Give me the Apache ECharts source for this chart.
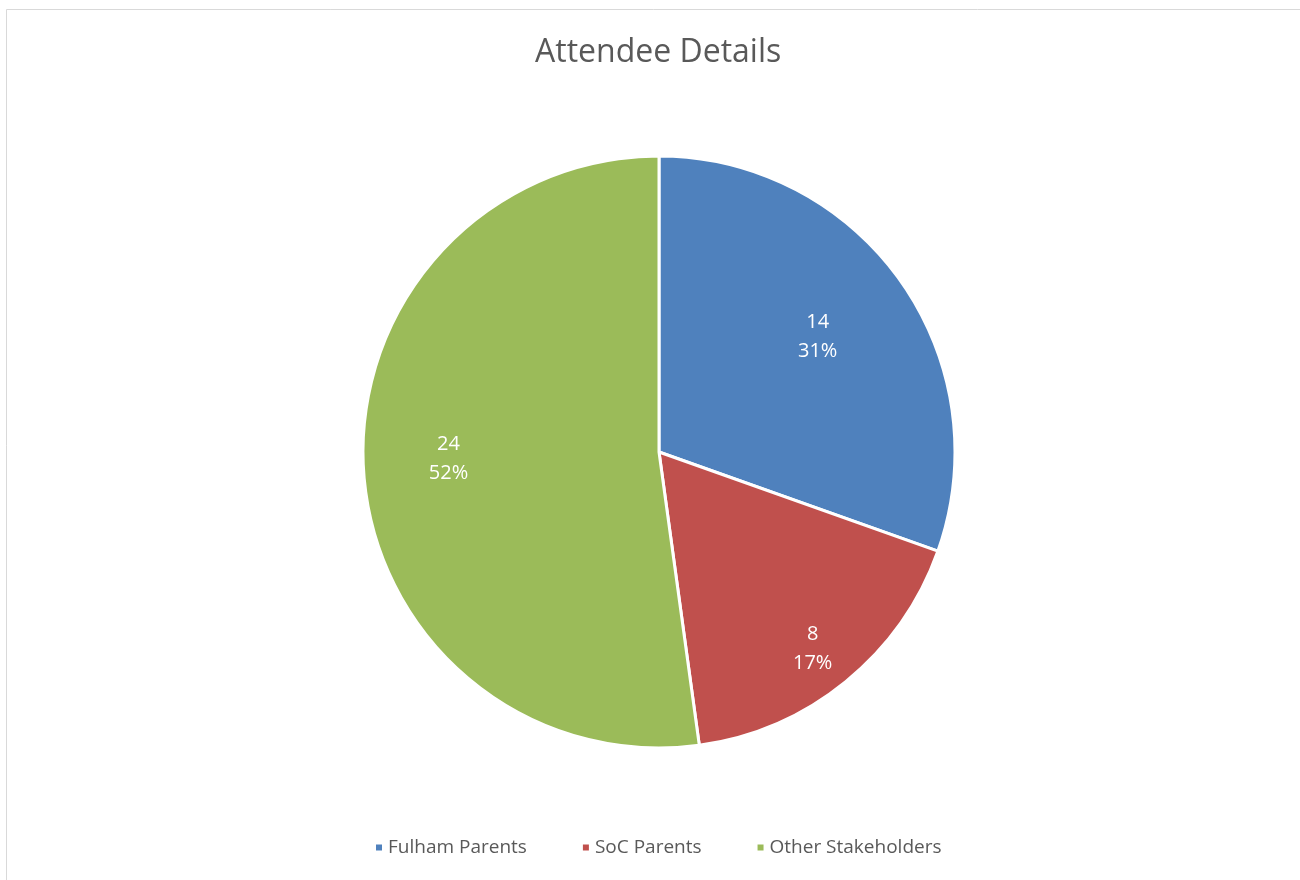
<!DOCTYPE html>
<html>
<head>
<meta charset="utf-8">
<script src="https://cdn.jsdelivr.net/npm/echarts@6/dist/echarts.min.js"></script>
<style>
html,body{margin:0;padding:0;background:#fff;}
#chart{width:1300px;height:880px;}
</style>
</head>
<body>
<div id="chart"></div>
<script>
var chartTitle = 'Attendee Details';
var categories = ['Fulham Parents', 'SoC Parents', 'Other Stakeholders'];
var values = [14, 8, 24];
var colors = ['#4f81bd', '#c0504d', '#9bbb59'];

var FONT = '"Open Sans", "Noto Sans", sans-serif';
// label nudges (style only) to mimic Excel's best-fit placement
var labelNudge = [[-17, 9], [18, 30], [4, -8]];

var pieData = categories.map(function (c, i) {
  return { name: c, value: values[i], itemStyle: { color: colors[i] } };
});

var chart = echarts.init(document.getElementById('chart'), null, { renderer: 'canvas' });
chart.setOption({
  backgroundColor: '#ffffff',
  animation: false,
  title: {
    text: chartTitle,
    left: 530,
    top: 32,
    textStyle: { fontFamily: FONT, fontSize: 32, fontWeight: 'normal', color: '#595959' }
  },
  graphic: [{
    type: 'rect',
    shape: { x: 6.5, y: 9.5, width: 1400, height: 1000 },
    style: { fill: 'none', stroke: '#d9d9d9', lineWidth: 1 },
    silent: true
  }],
  legend: {
    data: categories,
    bottom: 18,
    left: 369,
    icon: 'rect',
    itemWidth: 8,
    itemHeight: 8,
    itemGap: 54,
    textStyle: { fontFamily: FONT, fontSize: 19, color: '#595959' }
  },
  series: [{
    type: 'pie',
    center: [659, 452],
    radius: [0, 296],
    startAngle: 90,
    clockwise: true,
    data: pieData,
    itemStyle: { borderColor: '#ffffff', borderWidth: 3 },
    label: { show: false },
    labelLine: { show: false },
    emphasis: { disabled: true }
  }, {
    type: 'pie',
    center: [659, 452],
    radius: [0, 424],
    startAngle: 90,
    clockwise: true,
    silent: true,
    percentPrecision: 0,
    data: pieData.map(function (d, i) {
      return { name: d.name, value: d.value, label: { offset: labelNudge[i] } };
    }),
    itemStyle: { color: 'rgba(0,0,0,0)', borderWidth: 0 },
    label: {
      show: true,
      position: 'inside',
      formatter: '{c}\n{d}%',
      fontFamily: FONT,
      fontSize: 20,
      lineHeight: 29,
      color: '#ffffff'
    },
    labelLine: { show: false },
    emphasis: { disabled: true }
  }]
});
</script>
</body>
</html>
